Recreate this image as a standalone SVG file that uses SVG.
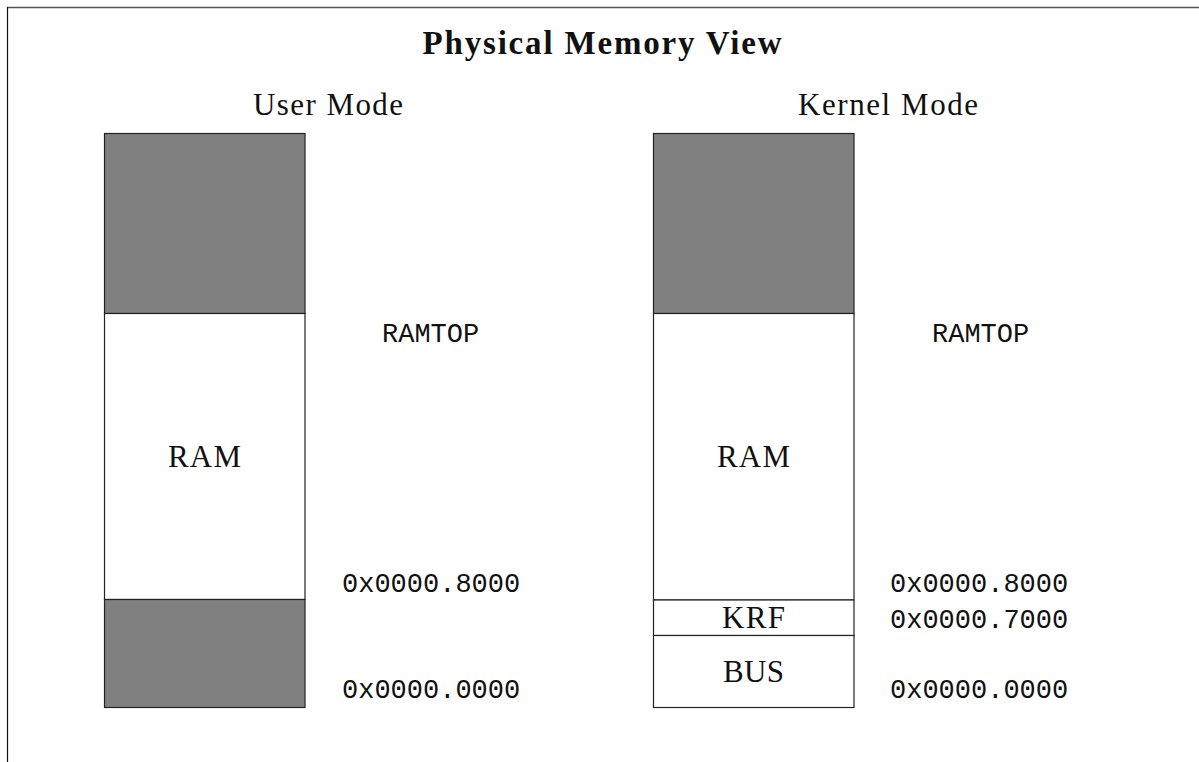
<svg xmlns="http://www.w3.org/2000/svg" width="1199" height="762" viewBox="0 0 1199 762">
<style>
.seg{stroke:#222;stroke-width:1.2}
.gray{fill:#808080}
.white{fill:#fff}
.rm{font-family:"Liberation Serif","Times New Roman",serif;font-size:31px;fill:#111;text-anchor:middle}
.tt{font-family:"Liberation Serif","Times New Roman",serif;font-size:33px;font-weight:bold;fill:#111;text-anchor:middle}
.mono{font-family:"Liberation Mono","Courier New",monospace;font-size:27px;fill:#111}
</style>
<rect width="1199" height="762" fill="#fff"/>
<g id="frame">
<line x1="7" y1="7.5" x2="1199" y2="7.5" stroke="#555" stroke-width="1.4"/>
<line x1="7.5" y1="7" x2="7.5" y2="762" stroke="#111" stroke-width="1.2"/>
</g>
<g id="title"><text class="tt" x="602" y="54" textLength="359">Physical Memory View</text></g>
<g id="user-mode">
<text class="rm" x="328" y="115" textLength="150">User Mode</text>
<g id="user-top"><rect class="seg gray" x="104.5" y="133.5" width="200.5" height="180"/></g>
<g id="user-ram"><rect class="seg white" x="104.5" y="313.5" width="200.5" height="286"/><text class="rm" x="204.5" y="467" textLength="73">RAM</text></g>
<g id="user-low"><rect class="seg gray" x="104.5" y="599.5" width="200.5" height="108"/></g>
<text class="mono" x="382" y="342">RAMTOP</text>
<text class="mono" x="342" y="592">0x0000.8000</text>
<text class="mono" x="342" y="698">0x0000.0000</text>
</g>
<g id="kernel-mode">
<text class="rm" x="888" y="115" textLength="180">Kernel Mode</text>
<g id="kernel-top"><rect class="seg gray" x="653.5" y="133.5" width="200.5" height="180"/></g>
<g id="kernel-ram"><rect class="seg white" x="653.5" y="313.5" width="200.5" height="286.5"/><text class="rm" x="753.5" y="467" textLength="73">RAM</text></g>
<g id="kernel-krf"><rect class="seg white" x="653.5" y="600" width="200.5" height="35.5"/><text class="rm" x="753.5" y="628" textLength="63">KRF</text></g>
<g id="kernel-bus"><rect class="seg white" x="653.5" y="635.5" width="200.5" height="72"/><text class="rm" x="753.5" y="682" textLength="61">BUS</text></g>
<text class="mono" x="932" y="342">RAMTOP</text>
<text class="mono" x="890" y="592">0x0000.8000</text>
<text class="mono" x="890" y="628">0x0000.7000</text>
<text class="mono" x="890" y="698">0x0000.0000</text>
</g>
</svg>
